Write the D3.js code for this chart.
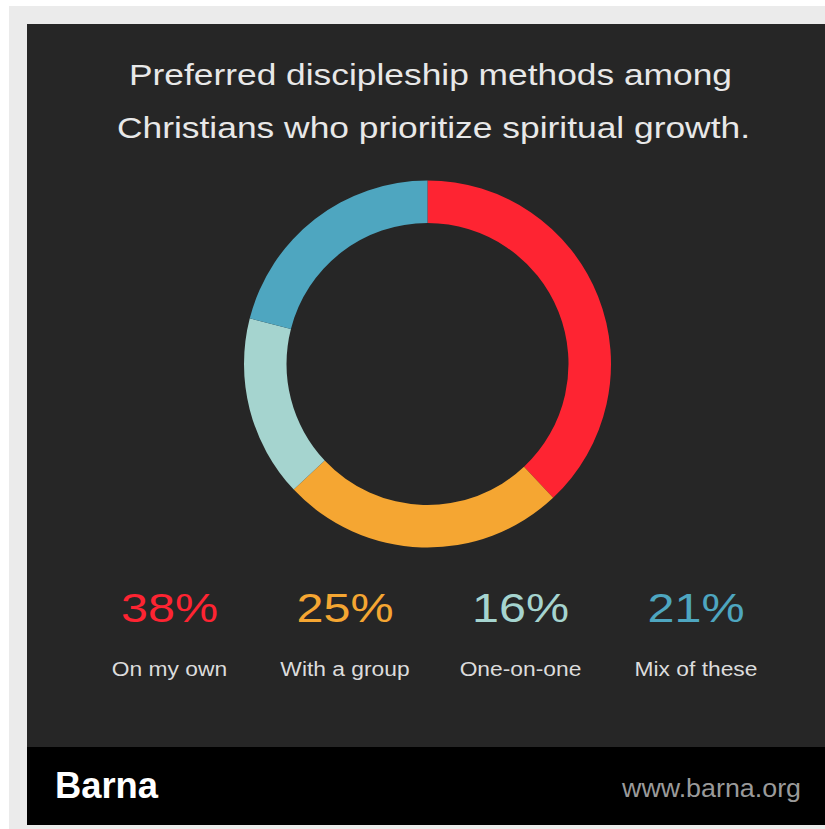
<!DOCTYPE html>
<html><head><meta charset="utf-8">
<script src="https://cdn.jsdelivr.net/npm/d3@7"></script>
<style>html,body{margin:0;padding:0;background:#fff;}svg{display:block;}</style>
</head><body>
<script>
const titleLines = ["Preferred discipleship methods among", "Christians who prioritize spiritual growth."];
const categories = ["On my own", "With a group", "One-on-one", "Mix of these"];
const values = [38, 25, 16, 21];
const colors = ["#fe2432", "#f5a632", "#a5d4cf", "#4ea6c0"];
const brand = "Barna";
const site = "www.barna.org";

const W = 825, H = 829;
const svg = d3.select("body").append("svg").attr("width", W).attr("height", H);
const font = "'Liberation Sans', Arial, Helvetica, sans-serif";

// frame
svg.append("rect").attr("x",0).attr("y",0).attr("width",W).attr("height",H).attr("fill","#ffffff");
svg.append("rect").attr("x",9).attr("y",6).attr("width",W-9).attr("height",H-6).attr("fill","#ebebeb");
svg.append("rect").attr("x",27).attr("y",24).attr("width",W-27).attr("height",723).attr("fill","#262626");
svg.append("rect").attr("x",27).attr("y",747).attr("width",W-27).attr("height",78).attr("fill","#000000");

// title
const titleTargets = [{cx:430.5, y:85, len:603}, {cx:433.5, y:138, len:633}];
svg.selectAll("text.title").data(titleLines).join("text")
  .attr("class","title")
  .attr("x",(d,i)=>titleTargets[i].cx).attr("y",(d,i)=>titleTargets[i].y)
  .attr("text-anchor","middle")
  .attr("font-family",font).attr("font-size",30)
  .attr("fill","#e8e8e8")
  .attr("textLength",(d,i)=>titleTargets[i].len).attr("lengthAdjust","spacingAndGlyphs")
  .text(d=>d);

// donut
const cx = 427.5, cy = 364, rOuter = 183.5, rInner = 141;
const pie = d3.pie().sort(null).value(d=>d)(values);
const arc = d3.arc().innerRadius(rInner).outerRadius(rOuter);
svg.append("g").attr("transform",`translate(${cx},${cy})`)
  .selectAll("path").data(pie).join("path")
  .attr("d",arc).attr("fill",(d,i)=>colors[i]);

// legend columns
const x = d3.scalePoint().domain(categories).range([169.5, 696]);
const g = svg.append("g");
g.selectAll("text.pct").data(categories).join("text")
  .attr("class","pct")
  .attr("x",d=>x(d)).attr("y",622)
  .attr("text-anchor","middle")
  .attr("font-family",font).attr("font-size",40)
  .attr("fill",(d,i)=>colors[i])
  .attr("textLength",97).attr("lengthAdjust","spacingAndGlyphs")
  .text((d,i)=>values[i]+"%");
g.selectAll("text.lab").data(categories).join("text")
  .attr("class","lab")
  .attr("x",d=>x(d)).attr("y",676)
  .attr("text-anchor","middle")
  .attr("font-family",font).attr("font-size",20)
  .attr("fill","#dcdcdc")
  .each(function(d){
    const t = d3.select(this).text(d);
    const w = this.getComputedTextLength();
    t.attr("textLength", w*1.14).attr("lengthAdjust","spacingAndGlyphs");
  });

// footer
svg.append("text").attr("x",55).attr("y",798)
  .attr("font-family",font).attr("font-size",37).attr("font-weight","bold")
  .attr("fill","#ffffff").attr("textLength",103).attr("lengthAdjust","spacingAndGlyphs")
  .text(brand);
svg.append("text").attr("x",801).attr("y",797).attr("text-anchor","end")
  .attr("font-family",font).attr("font-size",26)
  .attr("fill","#9a9a9a").attr("textLength",179).attr("lengthAdjust","spacingAndGlyphs")
  .text(site);
</script>
</body></html>
